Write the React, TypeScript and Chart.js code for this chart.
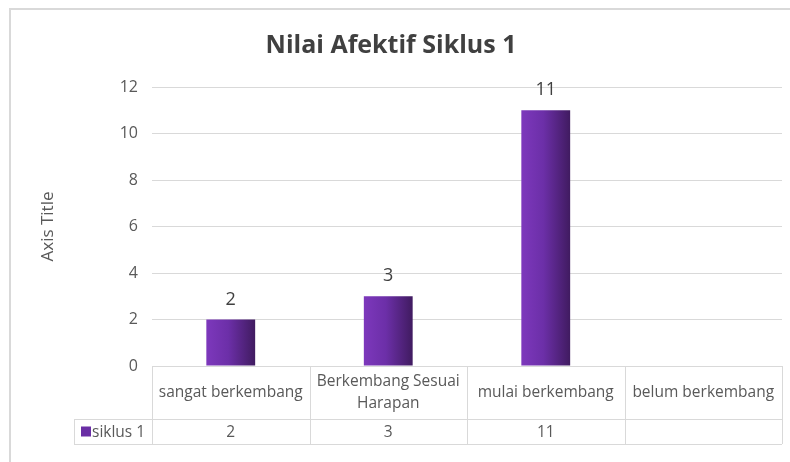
import React, { useEffect, useRef } from "react";
import { Chart, registerables } from "chart.js";

Chart.register(...registerables);

const chartTitle = "Nilai Afektif Siklus 1";
const categories = ["sangat berkembang", "Berkembang Sesuai Harapan", "mulai berkembang", "belum berkembang"];
const seriesName = "siklus 1";
const seriesValues: (number | null)[] = [2, 3, 11, null];
const yTicks = [0, 2, 4, 6, 8, 10, 12];
const yAxisTitle = "Axis Title";

const FONT = "'Open Sans', 'Noto Sans', sans-serif";
const GRID = "#d9d9d9";
const TEXT = "#595959";
const BAR_PCT = 0.31;

function barGradient(chart: any, index: number) {
  const area = chart.chartArea;
  const xs = chart.scales.x;
  if (!area || !xs) return "#7030a0";
  const cw = (area.right - area.left) / categories.length;
  const w = cw * BAR_PCT;
  const cx = xs.getPixelForValue(index);
  const g = chart.ctx.createLinearGradient(cx - w / 2, 0, cx + w / 2, 0);
  g.addColorStop(0, "#7d38bc");
  g.addColorStop(0.45, "#6c2fa8");
  g.addColorStop(1, "#401b60");
  return g;
}

function wrapText(ctx: CanvasRenderingContext2D, text: string, maxW: number): string[] {
  const words = text.split(" ");
  const lines: string[] = [];
  let cur = "";
  for (const w of words) {
    const t = cur ? cur + " " + w : w;
    if (ctx.measureText(t).width > maxW && cur) {
      lines.push(cur);
      cur = w;
    } else cur = t;
  }
  if (cur) lines.push(cur);
  return lines;
}

const tablePlugin = {
  id: "excelTable",
  afterDraw(chart: any) {
    const ctx: CanvasRenderingContext2D = chart.ctx;
    const area = chart.chartArea;
    const xs = chart.scales.x;
    const n = categories.length;
    const cw = (area.right - area.left) / n;
    const top = area.bottom;
    const mid = top + 53;
    const bot = mid + 25;
    const legLeft = 74;
    ctx.save();
    // outer chart border
    ctx.strokeStyle = "#d9d9d9";
    ctx.lineWidth = 2;
    ctx.beginPath();
    ctx.moveTo(10, 470);
    ctx.lineTo(10, 9);
    ctx.lineTo(800, 9);
    ctx.stroke();

    ctx.strokeStyle = GRID;
    ctx.lineWidth = 1;
    ctx.beginPath();
    ctx.moveTo(legLeft, mid + 0.5);
    ctx.lineTo(area.right, mid + 0.5);
    ctx.moveTo(legLeft, bot + 0.5);
    ctx.lineTo(area.right, bot + 0.5);
    ctx.moveTo(legLeft + 0.5, mid);
    ctx.lineTo(legLeft + 0.5, bot);
    for (let i = 0; i <= n; i++) {
      const x = Math.round(area.left + i * cw) + 0.5;
      ctx.moveTo(x, top);
      ctx.lineTo(x, bot);
    }
    ctx.stroke();

    ctx.fillStyle = TEXT;
    ctx.font = "15.5px " + FONT;
    ctx.textAlign = "center";
    ctx.textBaseline = "middle";
    for (let i = 0; i < n; i++) {
      const cx = xs.getPixelForValue(i);
      const lines = wrapText(ctx, categories[i], cw - 8);
      const lh = 22;
      const y0 = (top + mid) / 2 - ((lines.length - 1) * lh) / 2;
      lines.forEach((l, k) => ctx.fillText(l, cx, y0 + k * lh));
      const v = seriesValues[i];
      if (v !== null && v !== undefined) ctx.fillText(String(v), cx, (mid + bot) / 2 + 1);
    }
    // legend key
    ctx.fillStyle = "#6a2ea5";
    ctx.fillRect(legLeft + 7, (mid + bot) / 2 - 5, 10, 10);
    ctx.fillStyle = TEXT;
    ctx.textAlign = "left";
    ctx.fillText(seriesName, legLeft + 18, (mid + bot) / 2 + 1);

    // data labels
    const meta = chart.getDatasetMeta(0);
    ctx.fillStyle = "#404040";
    ctx.font = "18px " + FONT;
    ctx.textAlign = "center";
    ctx.textBaseline = "bottom";
    meta.data.forEach((el: any, i: number) => {
      const v = seriesValues[i];
      if (v === null || v === undefined) return;
      ctx.fillText(String(v), el.x, el.y - 11);
    });
    ctx.restore();
  },
};

export default function App() {
  const ref = useRef<HTMLCanvasElement | null>(null);
  useEffect(() => {
    if (!ref.current) return;
    const chart = new Chart(ref.current, {
      type: "bar",
      data: {
        labels: categories,
        datasets: [
          {
            label: seriesName,
            data: seriesValues,
            backgroundColor: (c: any) => barGradient(c.chart, c.dataIndex),
            barPercentage: BAR_PCT,
            categoryPercentage: 1,
          },
        ],
      },
      options: {
        animation: false,
        responsive: false,
        layout: { padding: { left: 0, right: 8, top: 0, bottom: 88 } },
        plugins: {
          legend: { display: false },
          tooltip: { enabled: false },
          title: {
            display: true,
            text: chartTitle,
            color: "#404040",
            font: { family: FONT, size: 25, weight: "bold" },
            padding: { top: 31, bottom: 26 },
          },
        },
        scales: {
          x: {
            ticks: { display: false },
            grid: { display: false },
            border: { display: false },
          },
          y: {
            min: 0,
            max: 12,
            afterFit: (s: any) => {
              s.width = 152;
            },
            afterBuildTicks: (s: any) => {
              s.ticks = yTicks.map((v) => ({ value: v }));
            },
            ticks: { color: TEXT, font: { family: FONT, size: 16 }, padding: 14 },
            grid: { color: GRID, drawTicks: false },
            border: { display: false },
            title: {
              display: true,
              text: yAxisTitle,
              color: TEXT,
              font: { family: FONT, size: 17 },
              padding: { top: 38, bottom: 0 },
            },
          },
        },
      },
      plugins: [tablePlugin],
    } as any);
    return () => chart.destroy();
  }, []);
  return (
    <div style={{ position: "absolute", left: 0, top: 0, width: 790, height: 462, background: "#fff" }}>
      <canvas ref={ref} width={790} height={462} style={{ width: 790, height: 462 }} />
    </div>
  );
}
